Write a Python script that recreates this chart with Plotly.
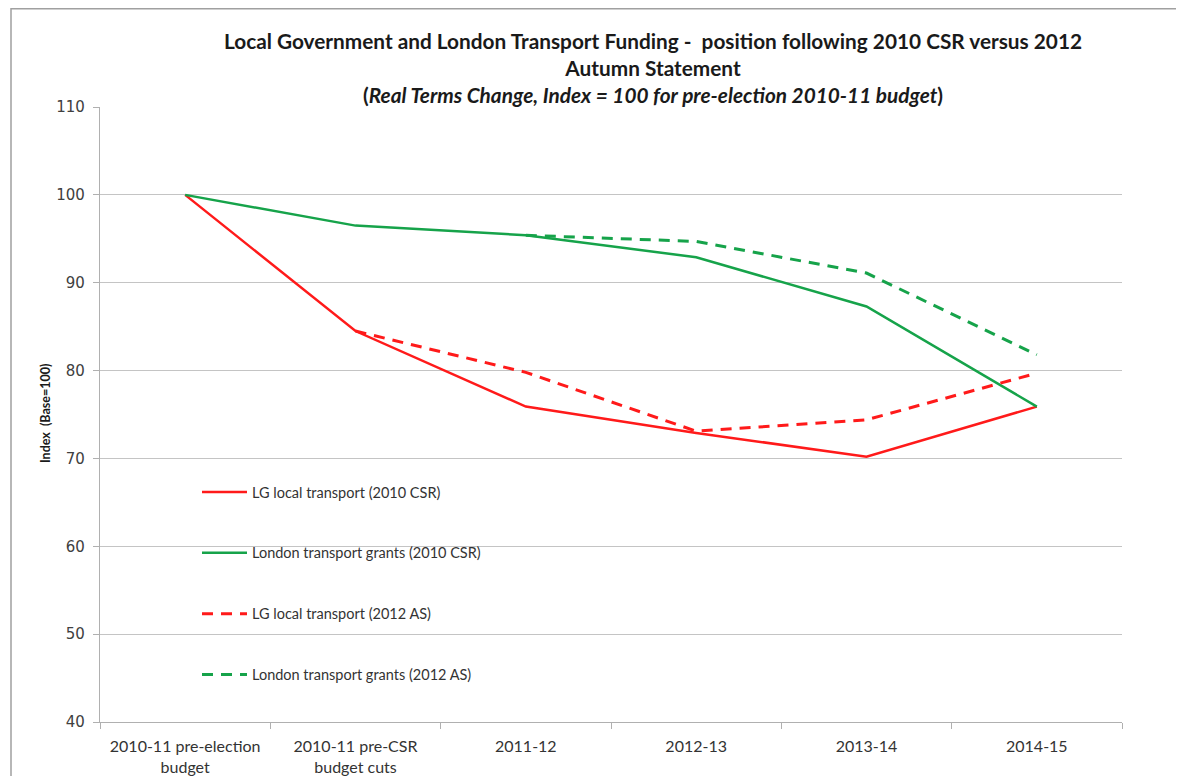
import plotly.graph_objects as go

categories = ["2010-11 pre-election<br>budget", "2010-11 pre-CSR<br>budget cuts",
              "2011-12", "2012-13", "2013-14", "2014-15"]
lg_csr = [100, 84.5, 75.9, 72.9, 70.2, 75.9]
london_csr = [100, 96.5, 95.4, 92.9, 87.3, 75.9]
lg_as = [None, 84.5, 79.8, 73.1, 74.4, 79.7]
london_as = [None, None, 95.4, 94.7, 91.1, 81.8]
series_names = ["LG local transport (2010 CSR)", "London transport grants (2010 CSR)",
                "LG local transport (2012 AS)", "London transport grants (2012 AS)"]
y_ticks = [40, 50, 60, 70, 80, 90, 100, 110]

RED = "#ff1a1a"
GREEN = "#16a34a"

# page has an 8px body margin; figure sized to fill the rest of the window
OFF = 8
W, H = 1184 - OFF, 776 - OFF
ML, MR, MT, MB = 100 - OFF, 62, 107 - OFF, 54
PW, PH = W - ML - MR, H - MT - MB


def px_x(p):
    return (p - OFF - ML) / PW


def px_y(p):
    return (H - MB - (p - OFF)) / PH


fig = go.Figure()
specs = [
    (lg_csr, RED, "solid", 2.5),
    (london_csr, GREEN, "solid", 2.5),
    (lg_as, RED, "11px,8px", 3),
    (london_as, GREEN, "11px,8px", 3),
]
for i, (vals, col, dash, wd) in enumerate(specs):
    fig.add_trace(go.Scatter(
        x=categories, y=vals, mode="lines", name=series_names[i],
        legendgroup=f"g{i}",
        line=dict(color=col, width=wd, dash=dash),
        connectgaps=False,
    ))

fig.update_layout(
    width=W, height=H,
    margin=dict(l=ML, r=MR, t=MT, b=MB),
    paper_bgcolor="white", plot_bgcolor="white",
    font=dict(family="Lato", color="#333333"),
    title=dict(
        text="Local Government and London Transport Funding -  position following 2010 CSR versus 2012<br>"
             "Autumn Statement<br>"
             "(<i>Real Terms Change, Index = 100 for pre-election 2010-11 budget</i>)",
        x=px_x(653), xanchor="center", xref="paper",
        y=1 - 41 / H, yanchor="top", yref="container",
        font=dict(family="Lato", size=20.8, color="#1a1a1a", weight="bold"),
    ),
    showlegend=True,
    legend=dict(
        x=px_x(197), xanchor="left", y=px_y(476), yanchor="top",
        bgcolor="rgba(255,255,255,0)", borderwidth=0,
        font=dict(family="Lato", size=14.5, color="#333333"),
        traceorder="grouped", tracegroupgap=39, itemwidth=45,
    ),
    xaxis=dict(
        type="category", showgrid=False, showline=True, linecolor="#b0b0b0", linewidth=1.3,
        ticks="outside", tickson="boundaries", ticklen=6, tickcolor="#b0b0b0",
        tickfont=dict(family="Lato", size=16, color="#333333"),
        ticklabelstandoff=10, automargin=False,
        range=[-0.5, 5.5], fixedrange=True,
    ),
    yaxis=dict(
        range=[40, 110], tickvals=y_ticks, showgrid=True, gridcolor="#c4c4c4", gridwidth=1.3,
        showline=True, linecolor="#b0b0b0", linewidth=1.3,
        ticks="outside", ticklen=6, tickcolor="#b0b0b0",
        tickfont=dict(family="DejaVu Sans", size=15, color="#404040"),
        ticklabelstandoff=5, automargin=False,
        zeroline=False,
    ),
    shapes=[
        dict(type="rect", xref="paper", yref="paper",
             x0=px_x(101), x1=px_x(567), y0=px_y(700), y1=px_y(468),
             fillcolor="white", line=dict(width=0), layer="between"),
        dict(type="rect", xref="paper", yref="paper",
             x0=px_x(11), x1=px_x(1195), y0=px_y(790), y1=px_y(8.8),
             fillcolor="rgba(0,0,0,0)", line=dict(color="#a0a0a0", width=1.5), layer="above"),
    ],
    annotations=[
        dict(text="Index  (Base=100)", xref="paper", yref="paper",
             x=px_x(45), y=px_y(414), xanchor="center", yanchor="middle",
             textangle=-90, showarrow=False,
             font=dict(family="Lato", size=12.5, color="#1a1a1a", weight="bold")),
    ],
)

fig.write_html("out.html")
